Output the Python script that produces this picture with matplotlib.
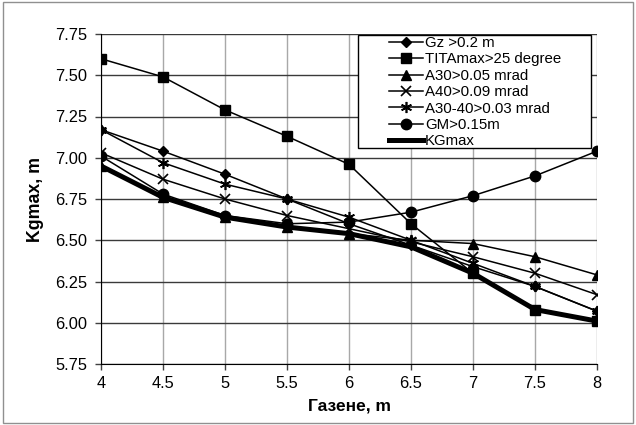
import matplotlib
matplotlib.use('Agg')
import matplotlib.pyplot as plt
from matplotlib.patches import Rectangle

plt.rcParams['font.family'] = ['Liberation Sans', 'DejaVu Sans']

# Газене, m
x = [4, 4.5, 5, 5.5, 6, 6.5, 7, 7.5, 8]

gz = [7.17, 7.04, 6.90, 6.75, 6.60, 6.47, 6.34, 6.22, 6.07]
tita = [7.60, 7.49, 7.29, 7.13, 6.96, 6.60, 6.30, 6.08, 6.01]
a30 = [6.95, 6.76, 6.64, 6.58, 6.54, 6.50, 6.48, 6.40, 6.29]
a40 = [7.03, 6.87, 6.75, 6.65, 6.57, 6.49, 6.40, 6.30, 6.17]
a3040 = [7.17, 6.97, 6.84, 6.75, 6.64, 6.50, 6.36, 6.22, 6.07]
gm = [7.01, 6.78, 6.65, 6.60, 6.61, 6.67, 6.77, 6.89, 7.04]
kgmax = [6.95, 6.76, 6.64, 6.58, 6.54, 6.46, 6.30, 6.08, 6.01]

labels = ['Gz >0.2 m', 'TITAmax>25 degree', 'A30>0.05 mrad', 'A40>0.09 mrad',
          'A30-40>0.03 mrad', 'GM>0.15m', 'KGmax']
yticks = [5.75, 6.00, 6.25, 6.50, 6.75, 7.00, 7.25, 7.50, 7.75]

W, H = 636, 425
fig = plt.figure(figsize=(W / 100, H / 100), dpi=100)
ax = fig.add_axes([101 / W, 1 - 364 / H, 496 / W, 330 / H])

lw = 1.1
ax.plot(x, gz, color='black', lw=lw, marker='D', ms=5, label=labels[0], zorder=3)
ax.plot(x, tita, color='black', lw=lw, marker='s', ms=6.8, label=labels[1], zorder=3)
ax.plot(x, a30, color='black', lw=lw, marker='^', ms=6.8, label=labels[2], zorder=3)
ax.plot(x, a40, color='black', lw=lw, marker='x', ms=7, mew=1.2, label=labels[3], zorder=3)
ax.plot(x, a3040, color='black', lw=lw, marker=(6, 2, 0), ms=8, mew=1.2, label=labels[4], zorder=3)
ax.plot(x, gm, color='black', lw=lw, marker='o', ms=7.5, label=labels[5], zorder=3)
ax.plot(x, kgmax, color='black', lw=3.6, label=labels[6], zorder=4)

ax.set_xlim(4, 8)
ax.set_ylim(5.75, 7.75)
ax.set_xticks(x)
ax.set_xticklabels(['4', '4.5', '5', '5.5', '6', '6.5', '7', '7.5', '8'])
ax.set_yticks(yticks)
ax.set_yticklabels(['%.2f' % v for v in yticks])
ax.tick_params(labelsize=11.8, length=4, width=1, color='#404040')
ax.tick_params(axis='y', pad=6)
ax.tick_params(axis='x', pad=5)

ax.grid(axis='y', color='#3a3a3a', lw=1)
ax.grid(axis='x', color='#a8a8a8', lw=1)
ax.set_axisbelow(True)
for s in ['top', 'right']:
    ax.spines[s].set_visible(False)
ax.spines['left'].set_color('black')
ax.spines['bottom'].set_color('black')

ax.set_xlabel('Газене, m', fontsize=12.5, fontweight='bold', labelpad=5)
ax.set_ylabel('Kgmax, m', fontsize=12.8, fontweight='bold', labelpad=8)

# legend box drawn separately (wide Excel-style frame)
fig.patches.append(Rectangle((358 / W, 1 - 148 / H), 233 / W, 113 / H,
                             transform=fig.transFigure, facecolor='white',
                             edgecolor='black', lw=1, zorder=5))
leg = fig.legend(loc='upper left', bbox_to_anchor=(389 / W, 1 - 36 / H),
                 bbox_transform=fig.transFigure, fontsize=10.8, frameon=False,
                 labelspacing=0.16, handlelength=2.25, handletextpad=0.15,
                 borderpad=0, borderaxespad=0)
leg.set_zorder(6)

fig.patches.append(Rectangle((0.004, 0.005), 0.992, 0.99, transform=fig.transFigure,
                             fill=False, edgecolor='#909090', lw=1))

fig.savefig('out.png', dpi=100)
